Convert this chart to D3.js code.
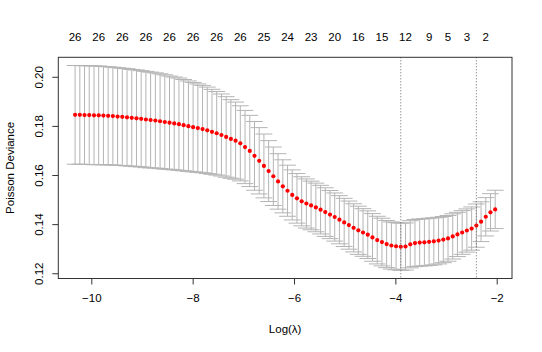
<!DOCTYPE html>
<html>
<head>
<meta charset="utf-8">
<script src="https://cdn.jsdelivr.net/npm/d3@7"></script>
<style>
  body { margin: 0; background: #fff; }
  svg { display: block; font-family: "Liberation Sans", Arial, Helvetica, sans-serif; }
</style>
</head>
<body>
<div id="chart"></div>
<script>
let w = 542;
let h = 352;

// log(lambda) for each fit along the path
let logLambda = [
  -10.320, -10.227, -10.134, -10.041, -9.947, -9.854, -9.761, -9.668, -9.575, -9.482,
  -9.389, -9.295, -9.202, -9.109, -9.016, -8.923, -8.830, -8.736, -8.643, -8.550,
  -8.457, -8.364, -8.271, -8.178, -8.084, -7.991, -7.898, -7.805, -7.712, -7.619,
  -7.526, -7.432, -7.339, -7.246, -7.153, -7.060, -6.967, -6.873, -6.780, -6.687,
  -6.594, -6.501, -6.408, -6.315, -6.221, -6.128, -6.035, -5.942, -5.849, -5.756,
  -5.663, -5.569, -5.476, -5.383, -5.290, -5.197, -5.104, -5.010, -4.917, -4.824,
  -4.731, -4.638, -4.545, -4.452, -4.358, -4.265, -4.172, -4.079, -3.986, -3.893,
  -3.800, -3.706, -3.613, -3.520, -3.427, -3.334, -3.241, -3.147, -3.054, -2.961,
  -2.868, -2.775, -2.682, -2.589, -2.495, -2.402, -2.309, -2.216, -2.123, -2.030
];

// mean cross-validated poisson deviance
let cvm = [
  0.1845, 0.1845, 0.1844, 0.1844, 0.1843, 0.1843, 0.1842, 0.1841, 0.1840, 0.1838,
  0.1837, 0.1835, 0.1833, 0.1831, 0.1829, 0.1826, 0.1824, 0.1822, 0.1819, 0.1816,
  0.1813, 0.1810, 0.1807, 0.1803, 0.1799, 0.1795, 0.1791, 0.1787, 0.1782, 0.1776,
  0.1770, 0.1763, 0.1755, 0.1747, 0.1740, 0.1729, 0.1714, 0.1698, 0.1678, 0.1658,
  0.1637, 0.1616, 0.1595, 0.1574, 0.1554, 0.1536, 0.1519, 0.1505, 0.1493, 0.1484,
  0.1476, 0.1468, 0.1459, 0.1449, 0.1439, 0.1429, 0.1418, 0.1407, 0.1396, 0.1385,
  0.1375, 0.1366, 0.1357, 0.1346, 0.1335, 0.1327, 0.1319, 0.1313, 0.1310, 0.1308,
  0.1309, 0.1318, 0.1323, 0.1325, 0.1326, 0.1328, 0.1330, 0.1333, 0.1337, 0.1342,
  0.1350, 0.1358, 0.1366, 0.1374, 0.1382, 0.1394, 0.1410, 0.1430, 0.1448, 0.1460
];

// standard error of the cv deviance
let cvsd = [
  0.0201, 0.0201, 0.0201, 0.0201, 0.0201, 0.0201, 0.0200, 0.0200, 0.0199, 0.0199,
  0.0198, 0.0198, 0.0197, 0.0197, 0.0196, 0.0196, 0.0195, 0.0194, 0.0193, 0.0192,
  0.0190, 0.0189, 0.0188, 0.0186, 0.0184, 0.0182, 0.0180, 0.0178, 0.0176, 0.0173,
  0.0170, 0.0167, 0.0164, 0.0160, 0.0157, 0.0153, 0.0149, 0.0145, 0.0140, 0.0135,
  0.0130, 0.0124, 0.0119, 0.0113, 0.0108, 0.0104, 0.0102, 0.0101, 0.0100, 0.0100,
  0.0099, 0.0099, 0.0099, 0.0099, 0.0098, 0.0098, 0.0098, 0.0098, 0.0098, 0.0098,
  0.0098, 0.0097, 0.0097, 0.0097, 0.0097, 0.0097, 0.0096, 0.0096, 0.0096, 0.0096,
  0.0096, 0.0096, 0.0096, 0.0096, 0.0096, 0.0096, 0.0096, 0.0095, 0.0094, 0.0093,
  0.0092, 0.0090, 0.0089, 0.0088, 0.0088, 0.0088, 0.0081, 0.0078, 0.0076, 0.0078
];

// number of nonzero coefficients shown on the top axis (index into path)
let nzIndex = [0, 5, 10, 15, 20, 25, 30, 35, 40, 45, 50, 55, 60, 65, 70, 75, 79, 83, 87];
let nzLabels = ["26", "26", "26", "26", "26", "26", "26", "26", "25", "24", "23", "20", "16", "15", "12", "9", "5", "3", "2"];

let xTicks = [-10, -8, -6, -4, -2];
let yTicks = [0.12, 0.14, 0.16, 0.18, 0.20];

let pLeft = 58.3, pRight = 512, pTop = 57.3, pBottom = 278.5;

let data = logLambda.map((x, i) => ({
  x: x,
  m: cvm[i],
  up: cvm[i] + cvsd[i],
  lo: cvm[i] - cvsd[i]
}));

// lambda.min and lambda.1se
let iMin = d3.minIndex(data, d => d.m);
let limit = data[iMin].up;
let i1se = d3.max(data.map((d, i) => d.m <= limit ? i : -1));

// R style 4% padding on both axes
let xExt = d3.extent(data, d => d.x);
let xPad = (xExt[1] - xExt[0]) * 0.04;
let xScale = d3.scaleLinear().domain([xExt[0] - xPad, xExt[1] + xPad]).range([pLeft, pRight]);

let yExt = [d3.min(data, d => d.lo), d3.max(data, d => d.up)];
let yPad = (yExt[1] - yExt[0]) * 0.04;
let yScale = d3.scaleLinear().domain([yExt[0] - yPad, yExt[1] + yPad]).range([pBottom, pTop]);

let svg = d3.select("#chart").append("svg")
  .attr("width", w)
  .attr("height", h)
  .style("background-color", "#fff");

// error bars
let barW = (xExt[1] - xExt[0]) * 0.02;
let bars = svg.append("g").attr("stroke", "#b4b4b4").attr("stroke-width", 1).attr("fill", "none");
data.forEach(d => {
  bars.append("line")
    .attr("x1", xScale(d.x)).attr("x2", xScale(d.x))
    .attr("y1", yScale(d.up)).attr("y2", yScale(d.lo));
  bars.append("line")
    .attr("x1", xScale(d.x - barW)).attr("x2", xScale(d.x + barW))
    .attr("y1", yScale(d.up)).attr("y2", yScale(d.up));
  bars.append("line")
    .attr("x1", xScale(d.x - barW)).attr("x2", xScale(d.x + barW))
    .attr("y1", yScale(d.lo)).attr("y2", yScale(d.lo));
});

// points
svg.append("g").selectAll("circle").data(data).enter()
  .append("circle")
    .attr("cx", d => xScale(d.x))
    .attr("cy", d => yScale(d.m))
    .attr("r", 2.1)
    .attr("fill", "#ff0000");

// dotted lines at lambda.min and lambda.1se
[iMin, i1se].forEach(i => {
  svg.append("line")
    .attr("x1", xScale(data[i].x)).attr("x2", xScale(data[i].x))
    .attr("y1", pTop).attr("y2", pBottom)
    .attr("stroke", "#666")
    .attr("stroke-width", 1)
    .attr("stroke-dasharray", "1,2");
});

// box
svg.append("rect")
  .attr("x", pLeft).attr("y", pTop)
  .attr("width", pRight - pLeft).attr("height", pBottom - pTop)
  .attr("fill", "none")
  .attr("stroke", "#333")
  .attr("stroke-width", 1);

// bottom axis
let xAxis = d3.axisBottom(xScale).tickValues(xTicks).tickSize(6).tickPadding(9).tickFormat(d3.format("d"));
let xAxisGroup = svg.append("g").attr("transform", "translate(0," + pBottom + ")").call(xAxis);
xAxisGroup.select(".domain").remove();
xAxisGroup.selectAll("line").attr("stroke", "#333");
xAxisGroup.selectAll("text")
  .style("font-size", "11.5px")
  .style("fill", "#000")
  .style("font-family", "'Liberation Sans', Arial, sans-serif");

// left axis, labels parallel to the axis
let yAxis = d3.axisLeft(yScale).tickValues(yTicks).tickSize(6).tickFormat(d3.format(".2f"));
let yAxisGroup = svg.append("g").attr("transform", "translate(" + pLeft + ",0)").call(yAxis);
yAxisGroup.select(".domain").remove();
yAxisGroup.selectAll("line").attr("stroke", "#333");
yAxisGroup.selectAll("text")
  .attr("x", null).attr("dy", null)
  .attr("transform", "translate(-15.6,0) rotate(-90)")
  .style("text-anchor", "middle")
  .style("font-size", "11.5px")
  .style("fill", "#000")
  .style("font-family", "'Liberation Sans', Arial, sans-serif");

// top labels: number of nonzero coefficients
svg.append("g").selectAll("text").data(nzIndex).enter()
  .append("text")
    .attr("x", i => xScale(data[i].x))
    .attr("y", 40.8)
    .attr("text-anchor", "middle")
    .style("font-size", "11.5px")
    .text((i, k) => nzLabels[k]);

// axis titles
svg.append("text")
  .attr("x", (pLeft + pRight) / 2)
  .attr("y", 333)
  .attr("text-anchor", "middle")
  .style("font-size", "11.5px")
  .text("Log(λ)");

svg.append("text")
  .attr("transform", "translate(13.5," + ((pTop + pBottom) / 2) + ") rotate(-90)")
  .attr("text-anchor", "middle")
  .style("font-size", "11.5px")
  .text("Poisson Deviance");
</script>
</body>
</html>
